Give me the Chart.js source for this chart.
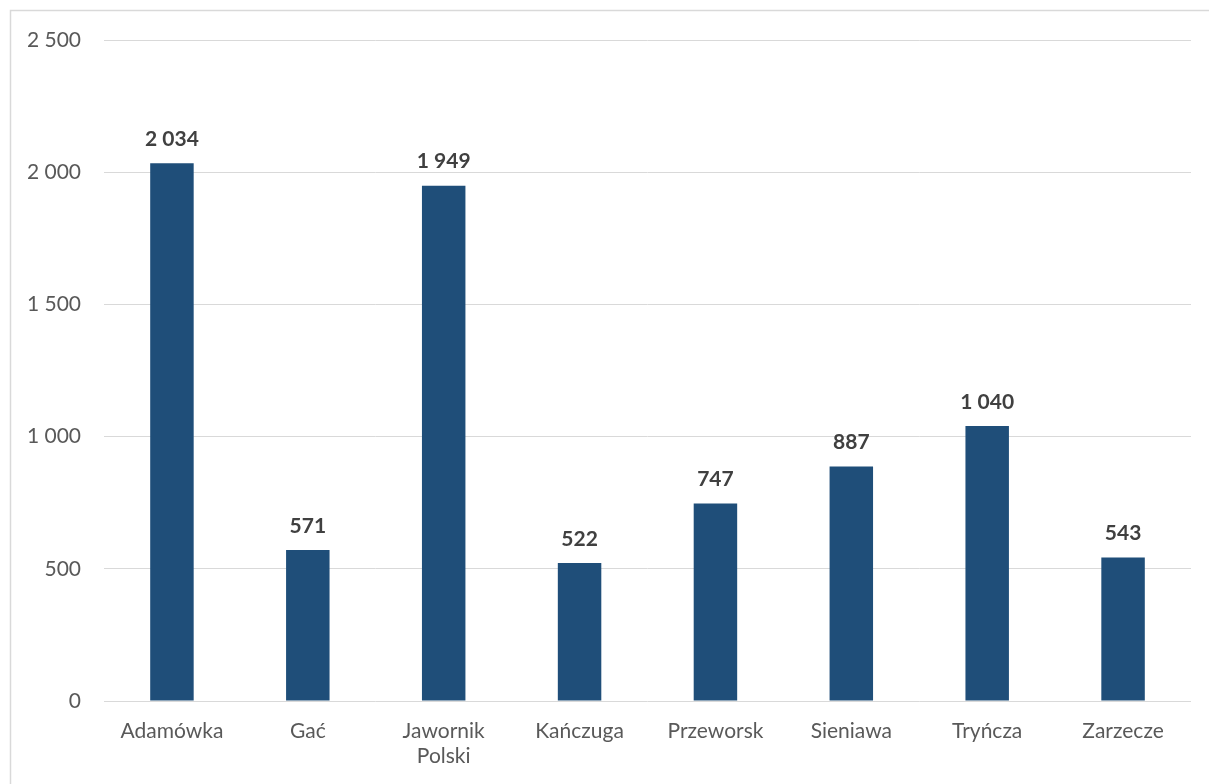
<!DOCTYPE html>
<html>
<head>
<meta charset="utf-8">
<script src="https://cdn.jsdelivr.net/npm/chart.js@4"></script>
<style>
  html, body { margin: 0; padding: 0; background: #fff; }
  #wrap { width: 1209px; height: 784px; position: relative; }
</style>
</head>
<body>
<div id="wrap"><canvas id="wykres" width="1209" height="784"></canvas></div>
<script>
// Dane
const gminy = ['Adamówka', 'Gać', ['Jawornik', 'Polski'], 'Kańczuga', 'Przeworsk', 'Sieniawa', 'Tryńcza', 'Zarzecze'];
const wartosci = [2034, 571, 1949, 522, 747, 887, 1040, 543];
const osY = [0, 500, 1000, 1500, 2000, 2500];

const FONT = 'Lato, "Open Sans", sans-serif';

// liczby ze spacją jako separatorem tysięcy
function format_liczby(v) {
    return String(v).replace(/\B(?=(\d{3})+(?!\d))/g, ' ');
}

// etykiety nad słupkami + ramka wykresu
const etykietyPlugin = {
    id: 'etykiety',
    afterDatasetsDraw(chart) {
        const ctx = chart.ctx;
        const meta = chart.getDatasetMeta(0);
        ctx.save();
        ctx.font = 'bold 21px ' + FONT;
        ctx.fillStyle = '#404040';
        ctx.textAlign = 'center';
        ctx.textBaseline = 'middle';
        meta.data.forEach((bar, i) => {
            ctx.fillText(format_liczby(wartosci[i]), bar.x, bar.y - 24);
        });
        ctx.restore();
    },
    afterDraw(chart) {
        const ctx = chart.ctx;
        ctx.save();
        ctx.strokeStyle = '#d9d9d9';
        ctx.lineWidth = 1.5;
        ctx.strokeRect(10.5, 10.5, 1400, 1400);
        ctx.restore();
    }
};

const ctx_wykres = document.getElementById('wykres').getContext('2d');
const wykres = new Chart(ctx_wykres, {
    type: 'bar',
    data: {
        labels: gminy,
        datasets: [{
            data: wartosci,
            backgroundColor: '#1f4e79',
            borderWidth: 0,
            barPercentage: 0.32,
            categoryPercentage: 1
        }]
    },
    options: {
        responsive: false,
        animation: false,
        layout: { padding: { left: 0, right: 18, top: 40, bottom: 0 } },
        plugins: {
            legend: { display: false },
            tooltip: { enabled: false }
        },
        scales: {
            x: {
                grid: { display: false, drawTicks: false },
                border: { display: false },
                ticks: {
                    color: '#595959',
                    font: { family: FONT, size: 21, lineHeight: 1.19 },
                    padding: 18,
                    maxRotation: 0
                },
                afterFit(scale) { scale.height = 83; }
            },
            y: {
                min: 0,
                max: 2500,
                afterBuildTicks(scale) { scale.ticks = osY.map(v => ({ value: v })); },
                grid: { color: '#d9d9d9', lineWidth: 1, drawTicks: false },
                border: { display: false },
                ticks: {
                    color: '#595959',
                    font: { family: FONT, size: 21 },
                    padding: 23,
                    callback: v => format_liczby(v)
                },
                afterFit(scale) { scale.width = 104; }
            }
        }
    },
    plugins: [etykietyPlugin]
});
</script>
</body>
</html>
